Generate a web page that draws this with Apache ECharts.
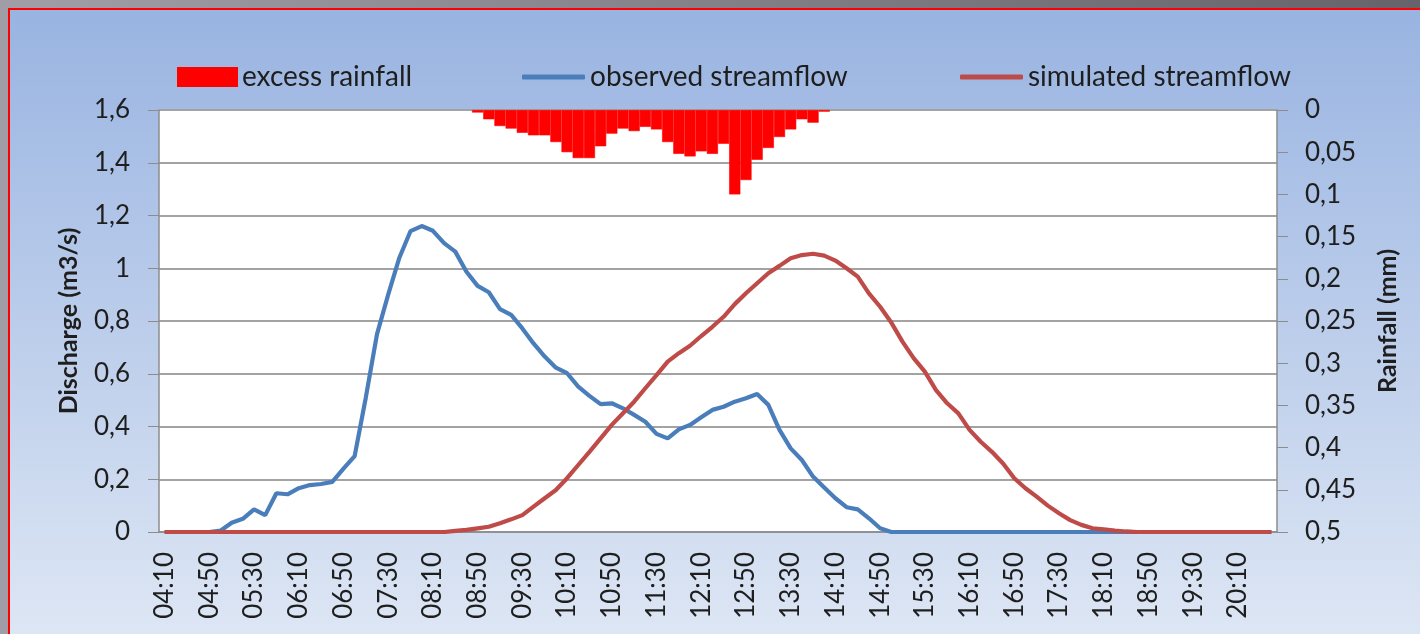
<!DOCTYPE html>
<html>
<head>
<meta charset="utf-8">
<script src="https://cdn.jsdelivr.net/npm/echarts@6/dist/echarts.min.js"></script>
<style>
  html, body { margin: 0; padding: 0; }
  #chart { width: 1420px; height: 634px; }
</style>
</head>
<body>
<div id="chart"></div>
<script>
  // time steps: every 10 minutes from 04:10
  const startMinutes = 4 * 60 + 10;
  const stepCount = 100;
  const times = [];
  for (let i = 0; i < stepCount; i++) {
    const m = startMinutes + i * 10;
    times.push(String(Math.floor(m / 60)).padStart(2, '0') + ':' + String(m % 60).padStart(2, '0'));
  }

  // excess rainfall (mm), starts at 08:50 (index 28)
  const rainStartIndex = 28;
  const excessRain = [
    0.003, 0.011, 0.019, 0.022, 0.027, 0.030, 0.030, 0.038, 0.050, 0.057,
    0.057, 0.043, 0.028, 0.022, 0.025, 0.020, 0.023, 0.038, 0.052, 0.055,
    0.049, 0.052, 0.040, 0.100, 0.083, 0.059, 0.045, 0.032, 0.023, 0.011,
    0.015, 0.002,
  ];

  // discharge (m3/s)
  const observed = [
    0, 0, 0, 0, 0, 0.005, 0.035, 0.05, 0.086, 0.064,
    0.147, 0.143, 0.166, 0.178, 0.182, 0.19, 0.24, 0.288, 0.51, 0.75,
    0.9, 1.04, 1.141, 1.16, 1.142, 1.095, 1.063, 0.987, 0.933, 0.909,
    0.845, 0.823, 0.772, 0.715, 0.665, 0.623, 0.602, 0.551, 0.516, 0.485,
    0.488, 0.469, 0.444, 0.418, 0.372, 0.355, 0.389, 0.406, 0.435, 0.463,
    0.475, 0.494, 0.507, 0.523, 0.482, 0.387, 0.317, 0.273, 0.21, 0.169,
    0.128, 0.094, 0.086, 0.052, 0.014, 0, 0, 0, 0, 0,
    0, 0, 0, 0, 0, 0, 0, 0, 0, 0,
    0, 0, 0, 0, 0, 0, 0, 0, 0, 0,
    0, 0, 0, 0, 0, 0, 0, 0, 0, 0,
  ];

  const simulated = [
    0, 0, 0, 0, 0, 0, 0, 0, 0, 0,
    0, 0, 0, 0, 0, 0, 0, 0, 0, 0,
    0, 0, 0, 0, 0, 0, 0.004, 0.008, 0.014, 0.02,
    0.033, 0.048, 0.064, 0.096, 0.128, 0.159, 0.204, 0.254, 0.304, 0.355,
    0.406, 0.45, 0.494, 0.545, 0.595, 0.646, 0.678, 0.706, 0.743, 0.778,
    0.816, 0.864, 0.905, 0.943, 0.981, 1.009, 1.038, 1.05, 1.055, 1.048,
    1.029, 1.0, 0.968, 0.905, 0.854, 0.794, 0.722, 0.659, 0.608, 0.538,
    0.488, 0.45, 0.387, 0.342, 0.304, 0.26, 0.204, 0.166, 0.134, 0.1,
    0.071, 0.045, 0.027, 0.014, 0.01, 0.005, 0.002, 0, 0, 0,
    0, 0, 0, 0, 0, 0, 0, 0, 0, 0,
  ];

  const rainSeries = times.map((t, i) => {
    const k = i - rainStartIndex;
    return k >= 0 && k < excessRain.length ? excessRain[k] : null;
  });

  const FONT = 'Lato';
  const TEXT = '#1e1e1e';
  const AXIS_GRAY = '#8c8c8c';
  const GRID_GRAY = '#a3a3a3';
  const BLUE = '#4a7ebb';
  const RED = '#be4b48';
  const commaNum = (v) => String(+v.toFixed(2)).replace('.', ',');

  const legendText = { fontFamily: FONT, fontSize: 28, color: TEXT };
  const nameText = { fontFamily: FONT, fontSize: 25, fontWeight: 'bold', color: TEXT };
  const tickText = { fontFamily: FONT, fontSize: 26, color: TEXT };

  const chart = echarts.init(document.getElementById('chart'));

  const option = {
    animation: false,
    backgroundColor: {
      type: 'linear', x: 0, y: 0, x2: 0, y2: 1,
      colorStops: [
        { offset: 0, color: '#98b3e1' },
        { offset: 1, color: '#dde6f4' },
      ],
    },
    graphic: [
      { type: 'rect', shape: { x: 0, y: 0, width: 1420, height: 8 }, style: { fill: {
        type: 'linear', x: 0, y: 0, x2: 1, y2: 0,
        colorStops: [{ offset: 0, color: '#a29ea7' }, { offset: 1, color: '#66636b' }] } } },
      { type: 'rect', shape: { x: 0, y: 0, width: 8, height: 634 }, style: { fill: '#a19da6' } },
      { type: 'rect', shape: { x: 8, y: 8, width: 1412, height: 2 }, style: { fill: '#ff0000' } },
      { type: 'rect', shape: { x: 8, y: 8, width: 2, height: 626 }, style: { fill: '#ff0000' } },
    ],
    grid: {
      left: 159,
      right: 143,
      top: 110,
      bottom: 102,
      show: true,
      backgroundColor: '#ffffff',
      borderWidth: 0,
    },
    legend: [
      {
        data: [{ name: 'excess rainfall', icon: 'rect' }],
        left: 172, top: 58,
        itemWidth: 59, itemHeight: 18, itemGap: 0,
        textStyle: legendText,
      },
      {
        data: [{ name: 'observed streamflow', icon: 'roundRect' }],
        left: 517, top: 58,
        itemWidth: 63, itemHeight: 5,
        textStyle: legendText,
      },
      {
        data: [{ name: 'simulated streamflow', icon: 'roundRect' }],
        left: 955, top: 58,
        itemWidth: 63, itemHeight: 5,
        textStyle: legendText,
      },
    ],
    xAxis: {
      type: 'category',
      data: times,
      boundaryGap: true,
      axisLine: { lineStyle: { color: AXIS_GRAY, width: 1.5 } },
      axisTick: { interval: 0, length: 8, lineStyle: { color: AXIS_GRAY } },
      axisLabel: Object.assign({ interval: 3, rotate: 90, margin: 20 }, tickText),
      splitLine: { show: false },
    },
    yAxis: [
      {
        type: 'value',
        min: 0,
        max: 1.6,
        interval: 0.2,
        name: 'Discharge (m3/s)',
        nameLocation: 'middle',
        nameRotate: 90,
        nameGap: 78,
        nameTextStyle: nameText,
        axisLine: { show: true, lineStyle: { color: AXIS_GRAY, width: 1.5 } },
        axisTick: { show: true, length: 11, lineStyle: { color: AXIS_GRAY } },
        axisLabel: Object.assign({ margin: 29, formatter: commaNum }, tickText),
        splitLine: { show: true, lineStyle: { color: GRID_GRAY, width: 2 } },
      },
      {
        type: 'value',
        min: 0,
        max: 0.5,
        interval: 0.05,
        inverse: true,
        position: 'right',
        name: 'Rainfall (mm)',
        nameLocation: 'middle',
        nameRotate: 90,
        nameGap: 98,
        nameTextStyle: nameText,
        axisLine: { show: true, lineStyle: { color: AXIS_GRAY, width: 1.5 } },
        axisTick: { show: true, length: 11, lineStyle: { color: AXIS_GRAY } },
        axisLabel: Object.assign({ margin: 28, formatter: commaNum }, tickText),
        splitLine: { show: false },
      },
    ],
    series: [
      {
        name: 'excess rainfall',
        type: 'bar',
        yAxisIndex: 1,
        barCategoryGap: '0%',
        itemStyle: { color: '#ff0000', borderColor: '#ff0000', borderWidth: 0.6 },
        data: rainSeries,
      },
      {
        name: 'observed streamflow',
        type: 'line',
        symbol: 'none',
        lineStyle: { color: BLUE, width: 4.2 },
        itemStyle: { color: BLUE },
        data: observed,
      },
      {
        name: 'simulated streamflow',
        type: 'line',
        symbol: 'none',
        lineStyle: { color: RED, width: 4.2 },
        itemStyle: { color: RED },
        data: simulated,
      },
    ],
  };

  chart.setOption(option);
</script>
</body>
</html>
